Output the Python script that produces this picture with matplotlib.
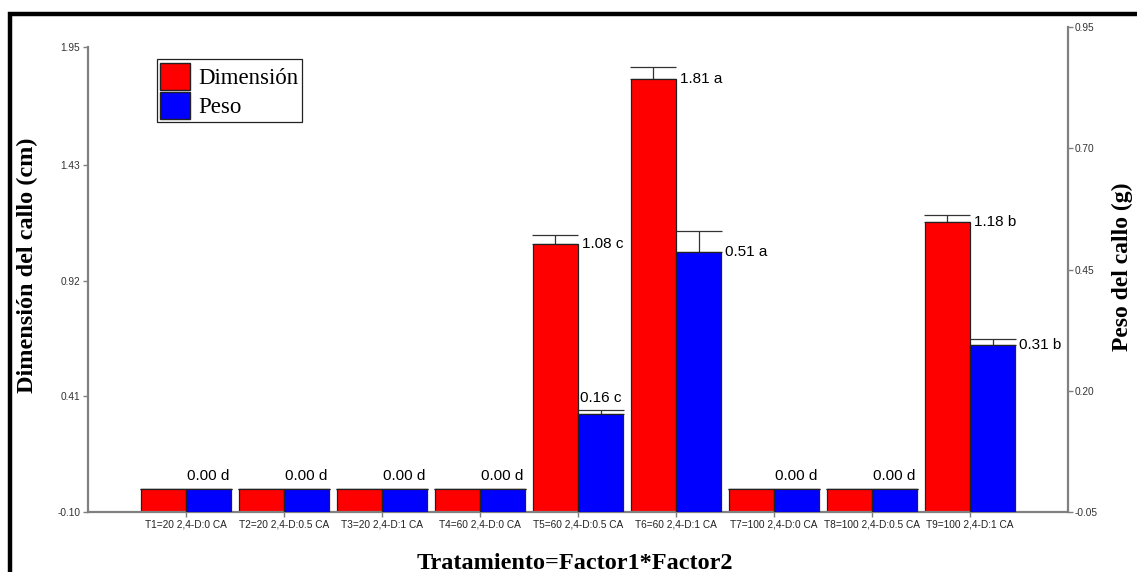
import numpy as np
import matplotlib
matplotlib.use('Agg')
import matplotlib.pyplot as plt
from matplotlib.patches import Patch, Rectangle

# treatments and means (letters from the mean separation test)
tratamientos = ['T1=20 2,4-D:0 CA', 'T2=20 2,4-D:0.5 CA', 'T3=20 2,4-D:1 CA',
                'T4=60 2,4-D:0 CA', 'T5=60 2,4-D:0.5 CA', 'T6=60 2,4-D:1 CA',
                'T7=100 2,4-D:0 CA', 'T8=100 2,4-D:0.5 CA', 'T9=100 2,4-D:1 CA']
dimension = [0.00, 0.00, 0.00, 0.00, 1.08, 1.81, 0.00, 0.00, 1.18]
dimension_err = [0.0, 0.0, 0.0, 0.0, 0.04, 0.05, 0.0, 0.0, 0.03]
dimension_letra = ['d', 'd', 'd', 'd', 'c', 'a', 'd', 'd', 'b']
peso = [0.00, 0.00, 0.00, 0.00, 0.16, 0.51, 0.00, 0.00, 0.31]
peso_err = [0.0, 0.0, 0.0, 0.0, 0.01, 0.045, 0.0, 0.0, 0.013]
peso_letra = ['d', 'd', 'd', 'd', 'c', 'a', 'd', 'd', 'b']

dim_ticks = [-0.10, 0.41, 0.92, 1.43, 1.95]
peso_ticks = [-0.05, 0.20, 0.45, 0.70, 0.95]

W, H = 1137, 572
fig = plt.figure(figsize=(W / 100, H / 100), dpi=100)
sans = 'Liberation Sans'
serif = 'Liberation Serif'
gris = '#808080'

# frame around the whole graphic
fig.add_artist(Rectangle((10 / W, -0.2), 1.3, 1.2 - 14 / H, transform=fig.transFigure,
                         fill=False, lw=3.2, ec='black'))

left, right = 88 / W, 1068 / W
bottom, top = 1 - 512 / H, 1 - 47 / H
ax = fig.add_axes([left, bottom, right - left, top - bottom])
ax2 = ax.twinx()
ax3 = fig.add_axes([left, bottom, right - left, (1 - 27 / H) - bottom])
ax3.patch.set_visible(False)

x = np.arange(len(tratamientos))
w = 0.46
d0, p0 = dim_ticks[0], peso_ticks[0]
capsize = w * 980 / 10 / 2 * 0.72

# error bars (upper half only) drawn behind the bars
ax.errorbar(x - w / 2, dimension, yerr=[np.zeros(len(x)), dimension_err], fmt='none',
            ecolor='#333333', elinewidth=0.9, capsize=capsize, capthick=0.9, zorder=1)
ax2.errorbar(x + w / 2, peso, yerr=[np.zeros(len(x)), peso_err], fmt='none',
             ecolor='#333333', elinewidth=0.9, capsize=capsize, capthick=0.9, zorder=1)
ax.bar(x - w / 2, np.array(dimension) - d0, w, bottom=d0, color='#FF0000',
       edgecolor='#222222', lw=0.9, zorder=2)
ax2.bar(x + w / 2, np.array(peso) - p0, w, bottom=p0, color='#0000FF',
        edgecolor='#222222', lw=0.9, zorder=2)

ax.set_xlim(-1, 9)
ax.set_ylim(d0, dim_ticks[-1])
ax2.set_ylim(p0, peso_ticks[-1])
ax3.set_xlim(-1, 9)
ax3.set_ylim(p0, peso_ticks[-1])

# value labels: above the bar when the neighbour on the right is taller
# or the bar is empty, otherwise to the right of the bar
def frac(v, lo, hi):
    return (v - lo) / (hi - lo)

pairs = []
for i in range(len(x)):
    pairs.append(('d', i, x[i] - w / 2, dimension[i], dimension_err[i], dimension_letra[i]))
    pairs.append(('p', i, x[i] + w / 2, peso[i], peso_err[i], peso_letra[i]))

for k, (s, i, xp, v, e, letra) in enumerate(pairs):
    a = ax if s == 'd' else ax2
    lo, hi = (d0, dim_ticks[-1]) if s == 'd' else (p0, peso_ticks[-1])
    if v == 0:
        if s == 'p':
            a.text(xp, v + (hi - lo) * 0.012, f'{v:.2f} {letra}', ha='center', va='bottom',
                   fontsize=11, family=sans, zorder=3)
        continue
    h = frac(v + e, lo, hi)
    nxt = None
    if k + 1 < len(pairs):
        ns, _, _, nv, ne, _ = pairs[k + 1]
        nlo, nhi = (d0, dim_ticks[-1]) if ns == 'd' else (p0, peso_ticks[-1])
        nxt = frac(nv + ne, nlo, nhi)
    if nxt is not None and nxt > h:
        a.text(xp, v + e + (hi - lo) * 0.01, f'{v:.2f} {letra}', ha='center', va='bottom',
               fontsize=11, family=sans, zorder=3)
    else:
        a.text(xp + w / 2 + 0.04, v, f'{v:.2f} {letra}', ha='left', va='center',
               fontsize=11, family=sans, zorder=3)

# left axis
for sp in ['top', 'right']:
    ax.spines[sp].set_visible(False)
for sp in ['left', 'bottom']:
    ax.spines[sp].set_color(gris)
    ax.spines[sp].set_linewidth(1.6)
ax.set_yticks(dim_ticks)
ax.set_yticklabels([f'{t:.2f}' for t in dim_ticks], fontsize=7.3, family=sans, color='#333333')
ax.set_xticks(x)
ax.set_xticklabels(tratamientos, fontsize=7.3, family=sans, color='#222222')
ax.tick_params(axis='both', direction='out', length=3.5, width=1, color=gris, pad=2)
ax.set_ylabel('Dimensión del callo (cm)', fontsize=17.5, family=serif, fontweight='bold')
ax.yaxis.set_label_coords(-0.051, 0.53)
ax.set_xlabel('Tratamiento=Factor1*Factor2', fontsize=17.5, family=serif, fontweight='bold')
ax.xaxis.set_label_coords(0.497, -0.088)

ax2.axis('off')

# right axis
for sp in ['top', 'left', 'bottom']:
    ax3.spines[sp].set_visible(False)
ax3.spines['right'].set_color(gris)
ax3.spines['right'].set_linewidth(1.6)
ax3.set_xticks([])
ax3.yaxis.tick_right()
ax3.yaxis.set_label_position('right')
ax3.set_yticks(peso_ticks)
ax3.set_yticklabels([f'{t:.2f}' for t in peso_ticks], fontsize=7.3, family=sans, color='#333333')
ax3.tick_params(axis='y', direction='out', length=3.5, width=1, color=gris, pad=1)
ax3.set_ylabel('Peso del callo (g)', fontsize=17, family=serif, fontweight='bold')
ax3.yaxis.set_label_coords(1.045, 0.505)

handles = [Patch(facecolor='#FF0000', edgecolor='#222222', label='Dimensión'),
           Patch(facecolor='#0000FF', edgecolor='#222222', label='Peso')]
leg = ax.legend(handles=handles, loc='upper left', bbox_to_anchor=(0.0704, 0.974),
                borderaxespad=0, fancybox=False, framealpha=1, edgecolor='#222222',
                prop={'family': serif, 'size': 16.5}, handlelength=1.3, handleheight=1.45,
                borderpad=0.15, labelspacing=0.08, handletextpad=0.35)
leg.get_frame().set_linewidth(0.9)

fig.savefig('out.png', dpi=100)
